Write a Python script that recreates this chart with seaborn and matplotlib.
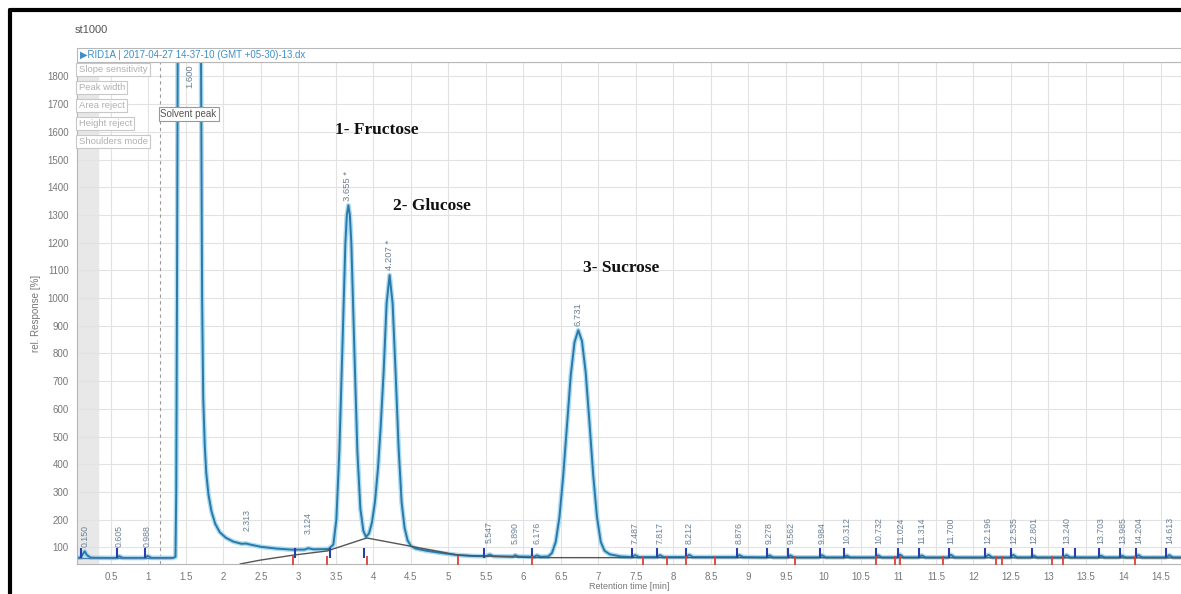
import matplotlib
matplotlib.use("Agg")
import matplotlib.pyplot as plt
import seaborn as sns
import pandas as pd

# chromatogram trace (time in min, response)
trace_t = [0.05, 0.10, 0.13, 0.15, 0.18, 0.23, 0.40, 0.57, 0.61, 0.66, 0.95, 0.99, 1.04, 1.33, 1.36,
           1.37, 1.38, 1.39, 1.70, 1.715, 1.73, 1.75, 1.77, 1.80, 1.84, 1.89, 1.95, 2.03, 2.13, 2.24,
           2.30, 2.36, 2.50, 2.70, 2.90, 3.08, 3.13, 3.20, 3.40, 3.465, 3.505, 3.545, 3.585, 3.625,
           3.645, 3.665, 3.685, 3.705, 3.745, 3.785, 3.825, 3.865, 3.90, 3.94, 3.98, 4.02, 4.06,
           4.095, 4.135, 4.175, 4.215, 4.255, 4.295, 4.335, 4.375, 4.415, 4.455, 4.50, 4.56, 4.70,
           4.90, 5.10, 5.30, 5.50, 5.55, 5.60, 5.86, 5.89, 5.93, 6.14, 6.18, 6.23, 6.33, 6.38, 6.43,
           6.48, 6.53, 6.58, 6.63, 6.68, 6.73, 6.78, 6.83, 6.88, 6.93, 6.98, 7.03, 7.08, 7.15, 7.30,
           7.44, 7.49, 7.54, 7.78, 7.82, 7.87, 8.17, 8.21, 8.26, 8.84, 8.88, 8.93, 9.24, 9.28, 9.33,
           9.52, 9.56, 9.61, 9.94, 9.98, 10.03, 10.27, 10.31, 10.36, 10.69, 10.73, 10.78, 10.98,
           11.02, 11.07, 11.27, 11.31, 11.36, 11.66, 11.70, 11.75, 12.15, 12.20, 12.25, 12.49,
           12.53, 12.58, 12.76, 12.80, 12.85, 13.20, 13.24, 13.29, 13.66, 13.70, 13.75, 13.94,
           13.98, 14.03, 14.16, 14.20, 14.25, 14.57, 14.61, 14.66, 14.77]
trace_v = [62, 64, 78, 86, 72, 63, 62, 62, 68, 62, 62, 69, 62, 62, 66,
           300, 1000, 1900, 1900, 1000, 640, 470, 370, 290, 230, 185, 155, 135, 121, 113,
           114, 110, 102, 96, 92, 92, 97, 93, 94, 110, 200, 448, 814, 1196,
           1300, 1335, 1300, 1196, 814, 448, 240, 160, 138, 150, 190, 265, 385,
           530, 731, 981, 1083, 981, 731, 460, 263, 170, 125, 105, 96, 88,
           80, 73, 69, 68, 74, 68, 67, 72, 67, 66, 71, 66, 67, 80, 120,
           210, 360, 540, 720, 840, 884, 845, 730, 550, 360, 210, 120, 88, 75, 67,
           65, 72, 65, 65, 72, 65, 65, 73, 65, 65, 72, 65, 64, 71, 64,
           64, 71, 64, 64, 72, 64, 64, 70, 64, 64, 71, 64, 64,
           74, 64, 64, 71, 64, 64, 73, 64, 64, 73, 64, 64,
           73, 64, 64, 70, 64, 64, 72, 64, 64, 70, 64, 64,
           70, 64, 64, 72, 64, 64, 72, 64, 64]

# integration baseline drawn by the software
base_t = [2.22, 2.49, 2.93, 3.38, 3.91, 5.13, 6.12, 14.77]
base_v = [40, 54, 72, 87, 134, 72, 63, 62]
base0_t = [0.05, 1.30]
base0_v = [60, 60]

# peak retention time labels
small_peaks = ["0.150", "0.605", "0.988", "2.313", "3.124", "5.547", "5.890", "6.176", "7.487",
               "7.817", "8.212", "8.876", "9.278", "9.562", "9.984", "10.312", "10.732", "11.024",
               "11.314", "11.700", "12.196", "12.535", "12.801", "13.240", "13.703", "13.985",
               "14.204", "14.613"]
small_label_v = [100, 100, 100, 158, 150, 115, 112, 112, 112, 112, 112, 112, 112, 112, 112, 112,
                 112, 112, 112, 112, 112, 112, 112, 112, 112, 112, 112, 112]
main_peaks = ["3.655 *", "4.207 *", "6.731"]
main_t = [3.655, 4.207, 6.731]
main_v = [1350, 1100, 900]

compounds = ["1- Fructose", "2- Glucose", "3- Sucrose"]
compound_t = [3.49, 4.26, 6.79]
compound_v = [1606, 1332, 1108]

start_marks = [0.10, 0.58, 0.96, 2.95, 3.42, 3.88, 5.48, 6.12, 7.45, 7.78, 8.17, 8.85, 9.25, 9.53,
               9.95, 10.28, 10.70, 10.99, 11.28, 11.67, 12.15, 12.50, 12.78, 13.20, 13.35, 13.67,
               13.95, 14.17, 14.57]
end_marks = [2.93, 3.38, 3.91, 5.13, 6.12, 7.60, 7.92, 8.17, 8.55, 9.62, 10.70, 10.95, 11.02,
             11.60, 12.30, 12.38, 13.05, 13.20, 14.15]

events = ["Slope sensitivity", "Peak width", "Area reject", "Height reject", "Shoulders mode"]

trace = pd.DataFrame({"time": trace_t, "resp": trace_v})

sns.set_theme(style="whitegrid")
plt.rcParams["font.family"] = ["Liberation Sans", "DejaVu Sans"]

fig = plt.figure(figsize=(11.81, 5.94), dpi=100)
ax = fig.add_axes([0.0652, 0.0505, 0.935, 0.845])

ax.axvspan(0.047, 0.33, color="#e8e8e8", zorder=0)
ax.axvline(1.15, color="#9a9a9a", lw=0.8, ls=(0, (3, 3)), zorder=1)

sns.lineplot(data=trace, x="time", y="resp", estimator=None, sort=False, color="#aadcf3", lw=3.4, ax=ax)
sns.lineplot(data=trace, x="time", y="resp", estimator=None, sort=False, color="#2c78a6", lw=1.4, ax=ax)
ax.plot(base_t, base_v, color="#555555", lw=1.0)
ax.plot(base0_t, base0_v, color="#4a7fb0", lw=1.0)

ax.scatter(start_marks, [80] * len(start_marks), marker="|", s=60, color="#2a3fa8", lw=1.5, zorder=5)
ax.scatter(end_marks, [52] * len(end_marks), marker="|", s=50, color="#d9413a", lw=1.3, zorder=5)

small_t = [float(s) for s in small_peaks]
for lab, t, v in zip(small_peaks, small_t, small_label_v):
    ax.text(t, v, lab, rotation=90, ha="center", va="bottom", fontsize=6.3, color="#6b7f94")
for lab, t, v in zip(main_peaks, main_t, main_v):
    ax.text(t, v, lab, rotation=90, ha="center", va="bottom", fontsize=6.8, color="#6b7f94")
ax.text(1.55, 1845, "1.600", rotation=90, ha="center", va="top", fontsize=6.8, color="#6b7f94")

for lab, t, v in zip(compounds, compound_t, compound_v):
    ax.text(t, v, lab, ha="left", va="center", fontsize=12.5, fontweight="bold",
            family="Liberation Serif", color="#111111")

ax.text(1.16, 1664, "Solvent peak", ha="left", va="center", fontsize=7, color="#555555",
        bbox=dict(boxstyle="square,pad=0.2", fc="white", ec="#999999", lw=0.8))
for i, ev in enumerate(events):
    ax.text(0.07, 1825 - i * 65, ev, ha="left", va="center", fontsize=6.8, color="#b0b0b0",
            bbox=dict(boxstyle="square,pad=0.25", fc="white", ec="#c8c8c8", lw=0.8))

ax.set_xlim(0.047, 14.77)
ax.set_ylim(40, 1852)
ax.set_xticks([0.5 * k for k in range(1, 30)])
ax.set_xticklabels([f"{0.5 * k:g}" for k in range(1, 30)])
ax.set_yticks(range(100, 1900, 100))
ax.grid(color="#e2e2e2", lw=0.8)
ax.tick_params(axis="both", labelsize=7, colors="#777777", length=3, width=0.7, pad=3)
ax.tick_params(axis="x", pad=3)
for s in ax.spines.values():
    s.set_color("#b5b5b5")
    s.set_linewidth(0.8)
ax.set_xlabel("Retention time [min]", fontsize=6.5, color="#777777", labelpad=0)
ax.set_ylabel("rel. Response [%]", fontsize=7, color="#777777", labelpad=4)

# header bar and sample name
fig.patches.append(plt.Rectangle((77 / 1181, 1 - 62 / 594), 1 - 77 / 1181, 14 / 594,
                                 transform=fig.transFigure, fc="white", ec="#b8b8b8", lw=0.8))
fig.text(80 / 1181, 1 - 55 / 594, "▶RID1A | 2017-04-27 14-37-10 (GMT +05-30)-13.dx",
         fontsize=7, color="#3f8fc6", va="center", ha="left")
fig.text(75 / 1181, 1 - 30 / 594, "st1000", fontsize=8, color="#555555", va="center", ha="left")

# outer black frame (left and top edges)
fig.lines.append(plt.Line2D([10 / 1181, 10 / 1181], [0, 1 - 10 / 594], transform=fig.transFigure,
                            color="black", lw=3))
fig.lines.append(plt.Line2D([10 / 1181, 1], [1 - 10 / 594, 1 - 10 / 594], transform=fig.transFigure,
                            color="black", lw=3))

fig.savefig("out.png", dpi=100)
